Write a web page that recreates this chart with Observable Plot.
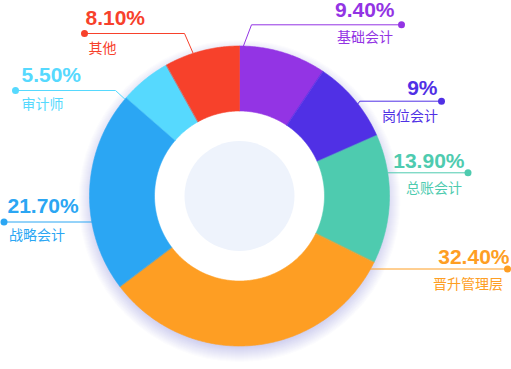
<!DOCTYPE html>
<html>
<head>
<meta charset="utf-8">
<script src="https://cdn.jsdelivr.net/npm/d3@7"></script>
<script src="https://cdn.jsdelivr.net/npm/@observablehq/plot@0.6"></script>
<style>
  html, body { margin: 0; padding: 0; background: #fff; }
  #chart { width: 511px; height: 369px; }
</style>
</head>
<body>
<div id="chart"></div>
<script>
// ---- data ----
const categories = ["基础会计", "岗位会计", "总账会计", "晋升管理层", "战略会计", "审计师", "其他"];
const values = [9.4, 9, 13.9, 32.4, 21.7, 5.5, 8.1];
const valueLabels = ["9.40%", "9%", "13.90%", "32.40%", "21.70%", "5.50%", "8.10%"];

// ---- styles ----
const colors = ["#9334e4", "#5030e5", "#4ecbaf", "#fe9e23", "#2ba6f3", "#56d9fe", "#f7412b"];
const hubColor = "#eef3fc";
const shadowColor = "rgb(70, 90, 160)";

// ---- layout ----
const W = 511, H = 369;
const CX = 239, CY = 195.5, R_OUT = 150, R_IN = 85, R_HUB = 55;
// label annotation layout (one entry per category, same order)
const labelLayout = [
  {side: "end",   dotX: 401,   lineY: 24.3,  elbowX: 251,   ang: 1.5,   pctX: 394,   catX: 392.5, pctY: 16,    catY: 41},
  {side: "end",   dotX: 441,   lineY: 100.7, elbowX: 359.3, ang: 52.1,  pctX: 437,   catX: 437.5, pctY: 94.5,  catY: 120},
  {side: "end",   dotX: 467.5, lineY: 172.3, elbowX: null,  ang: 81.1,  pctX: 464,   catX: 461.5, pctY: 167.3, catY: 192},
  {side: "end",   dotX: 507,   lineY: 268.5, elbowX: null,  ang: 119.1, pctX: 509,   catX: 502.5, pctY: 263.3, catY: 288},
  {side: "start", dotX: 3.5,   lineY: 221.5, elbowX: null,  ang: 260,   pctX: 7,     catX: 8.5,   pctY: 212.7, catY: 239.5},
  {side: "start", dotX: 15,    lineY: 90,    elbowX: 115,   ang: 310.2, pctX: 21,    catX: 21,    pctY: 81.7,  catY: 108},
  {side: "start", dotX: 84,    lineY: 33,    elbowX: 184,   ang: 342,   pctX: 85,    catX: 88,    pctY: 24,    catY: 52.5}
];

const pt = (a, r) => [CX + r * Math.sin(a), CY - r * Math.cos(a)];

// ---- ring slices from the values ----
const arcs = d3.pie().sort(null).value(d => d)(values);
const slicePts = [];
arcs.forEach((arc, i) => {
  const a0 = arc.startAngle, a1 = arc.endAngle;
  const n = Math.max(4, Math.ceil((a1 - a0) / (Math.PI / 360)));
  for (let k = 0; k <= n; k++) {
    const [x, y] = pt(a0 + (a1 - a0) * k / n, R_OUT);
    slicePts.push({cat: categories[i], x, y});
  }
  for (let k = n; k >= 0; k--) {
    const [x, y] = pt(a0 + (a1 - a0) * k / n, R_IN);
    slicePts.push({cat: categories[i], x, y});
  }
});

// ---- label lines, dots, texts ----
const leaderPts = [];
const labelRows = [];
categories.forEach((cat, i) => {
  const L = labelLayout[i];
  const a = L.ang * Math.PI / 180;
  let [ax, ay] = pt(a, R_OUT);
  if (L.elbowX == null) ay = L.lineY;
  leaderPts.push({cat, x: L.dotX, y: L.lineY});
  if (L.elbowX != null) leaderPts.push({cat, x: L.elbowX, y: L.lineY});
  leaderPts.push({cat, x: ax, y: ay});
  labelRows.push({cat, pct: valueLabels[i], side: L.side, dotX: L.dotX, lineY: L.lineY,
                  pctX: L.pctX, catX: L.catX, pctY: L.pctY, catY: L.catY});
});

const numFont = "'Liberation Sans', Arial, Helvetica, sans-serif";
const cjkFont = "'Noto Sans CJK SC', 'Noto Sans', sans-serif";

function textMarks(side) {
  const rows = labelRows.filter(d => d.side === side);
  return [
    Plot.text(rows, {x: "pctX", y: "pctY", text: "pct", fill: "cat", textAnchor: side, lineAnchor: "bottom",
      fontSize: 21, fontWeight: "bold", fontFamily: numFont}),
    Plot.text(rows, {x: "catX", y: "catY", text: "cat", fill: "cat", textAnchor: side, lineAnchor: "bottom",
      fontSize: 14, fontFamily: cjkFont})
  ];
}

// soft shadow: stacked translucent discs behind the ring
const shadowSteps = d3.range(0, 16);
const shadowMarks = shadowSteps.map(k =>
  Plot.dot([{x: CX, y: CY + 5}], {x: "x", y: "y", r: R_OUT - 4 + k, fill: shadowColor, fillOpacity: 0.014, stroke: null})
);

const chart = Plot.plot({
  width: W,
  height: H,
  margin: 0,
  x: {domain: [0, W], range: [0, W], axis: null},
  y: {domain: [0, H], range: [0, H], axis: null},
  color: {type: "ordinal", domain: categories, range: colors},
  style: {background: "transparent", overflow: "visible"},
  marks: [
    ...shadowMarks,
    Plot.dot([{x: CX, y: CY}], {x: "x", y: "y", r: R_IN + 2, fill: "white", stroke: null}),
    Plot.line(slicePts, {x: "x", y: "y", z: "cat", fill: "cat", stroke: "cat", strokeWidth: 0.6,
      curve: "linear-closed"}),
    Plot.dot([{x: CX, y: CY}], {x: "x", y: "y", r: R_HUB, fill: hubColor, stroke: null}),
    Plot.line(leaderPts, {x: "x", y: "y", z: "cat", stroke: "cat", strokeWidth: 1, strokeLinejoin: "miter"}),
    Plot.dot(labelRows, {x: "dotX", y: "lineY", r: 3.5, fill: "cat", stroke: null}),
    ...textMarks("start"),
    ...textMarks("end")
  ]
});

document.getElementById("chart").appendChild(chart);
</script>
</body>
</html>
